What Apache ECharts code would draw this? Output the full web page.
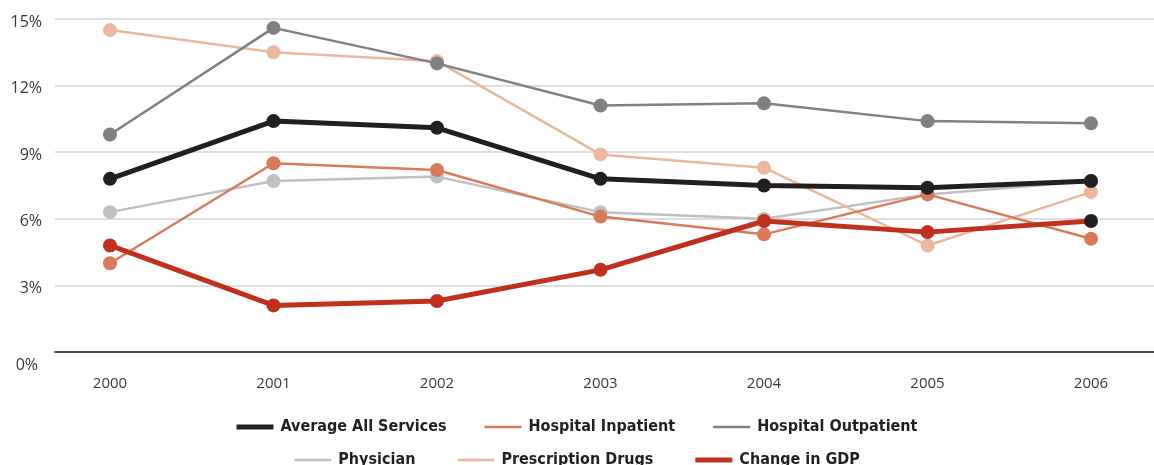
<!DOCTYPE html>
<html>
<head>
<meta charset="utf-8">
<title>Annual growth in health spending vs GDP</title>
<script src="https://cdn.jsdelivr.net/npm/echarts@6/dist/echarts.min.js"></script>
<style>
  html, body { margin: 0; padding: 0; background: #fff; }
  #chart { width: 1154px; height: 465px; }
</style>
</head>
<body>
<div id="chart"></div>
<script>
// Years on the horizontal axis
var years = [2000, 2001, 2002, 2003, 2004, 2005, 2006];

// Annual percent change per spending category
var averageAllServices = [7.8, 10.4, 10.1, 7.8, 7.5, 7.4, 7.7];
var hospitalInpatient  = [4.0, 8.5, 8.2, 6.1, 5.3, 7.1, 5.1];
var hospitalOutpatient = [9.8, 14.6, 13.0, 11.1, 11.2, 10.4, 10.3];
var physician          = [6.3, 7.7, 7.9, 6.3, 6.0, 7.1, 7.7];
var prescriptionDrugs  = [14.5, 13.5, 13.1, 8.9, 8.3, 4.8, 7.2];
var changeInGDP        = [4.8, 2.1, 2.3, 3.7, 5.9, 5.4, 5.9];

// Y axis tick values (percent)
var yTicks = [0, 3, 6, 9, 12, 15];

var chart = echarts.init(document.getElementById('chart'), null, { renderer: 'canvas' });

function pairs(values) {
  return years.map(function (y, i) { return [y, values[i]]; });
}

var fontTick = '"Open Sans", "Noto Sans", sans-serif';
var fontLegend = '"Liberation Sans Narrow", "DejaVu Sans Condensed", "Roboto", sans-serif';

function lineSeries(name, values, color, width, z) {
  return {
    name: name,
    type: 'line',
    data: pairs(values),
    symbol: 'circle',
    symbolSize: 14,
    z: z,
    lineStyle: { color: color, width: width },
    itemStyle: { color: color },
    emphasis: { disabled: true },
    animation: false
  };
}

var gdp = lineSeries('Change in GDP', changeInGDP, '#c1301d', 5, 8);
// final GDP marker is drawn in black
gdp.data[6] = { value: gdp.data[6], itemStyle: { color: '#231f20' } };

// thinner bar centred in the same 37x5 legend box
var thinIcon = 'path://M0,0L0,0M0,1.2H37V3.8H0ZM0,5L0,5';

var legendText = { fontFamily: fontLegend, fontWeight: 'bold', fontSize: 16, color: '#231f20', padding: [0, 0, 0, 2] };

var option = {
  backgroundColor: '#ffffff',
  animation: false,
  grid: { left: 55, right: 0, top: 19, bottom: 113, containLabel: false },
  xAxis: {
    type: 'value',
    min: 2000 - 55 / 163.5,
    max: 2006 + 63 / 163.5,
    splitLine: { show: false },
    axisLine: { show: true, onZero: false, lineStyle: { color: '#1a1a1a', width: 1.5 } },
    axisTick: { show: false },
    axisLabel: {
      customValues: years,
      margin: 24,
      color: '#3a3a3a',
      fontFamily: fontTick,
      fontSize: 15,
      formatter: function (v) { return String(v); }
    }
  },
  yAxis: {
    type: 'value',
    min: 0,
    max: 15,
    interval: 3,
    axisLine: { show: false },
    axisTick: { show: false },
    splitLine: { lineStyle: { color: '#d4d4d4', width: 1.5 } },
    axisLabel: {
      customValues: yTicks,
      margin: 13,
      color: '#3a3a3a',
      fontFamily: fontTick,
      fontSize: 16,
      padding: [6, 0, 0, 0],
      formatter: function (v) { return v === 0 ? '{z|0%}' : v + '%'; },
      rich: { z: { fontFamily: fontTick, fontSize: 16, color: '#3a3a3a', padding: [20, 4, 0, 0] } }
    }
  },
  legend: [
    {
      data: [
        { name: 'Average All Services', icon: 'rect' },
        { name: 'Hospital Inpatient', icon: thinIcon },
        { name: 'Hospital Outpatient', icon: thinIcon }
      ],
      top: 414,
      left: 'center',
      itemWidth: 37,
      itemHeight: 5,
      itemGap: 38,
      selectedMode: false,
      textStyle: legendText
    },
    {
      data: [
        { name: 'Physician', icon: thinIcon },
        { name: 'Prescription Drugs', icon: thinIcon },
        { name: 'Change in GDP', icon: 'rect' }
      ],
      top: 447,
      left: 'center',
      itemWidth: 37,
      itemHeight: 5,
      itemGap: 42,
      selectedMode: false,
      textStyle: legendText
    }
  ],
  series: [
    lineSeries('Physician', physician, '#bfc0c3', 2.5, 2),
    lineSeries('Prescription Drugs', prescriptionDrugs, '#ebb89e', 2.5, 3),
    lineSeries('Hospital Inpatient', hospitalInpatient, '#d97b5b', 2.5, 4),
    lineSeries('Hospital Outpatient', hospitalOutpatient, '#808184', 2.5, 5),
    lineSeries('Average All Services', averageAllServices, '#231f20', 5, 7),
    gdp
  ]
};

chart.setOption(option);
</script>
</body>
</html>
